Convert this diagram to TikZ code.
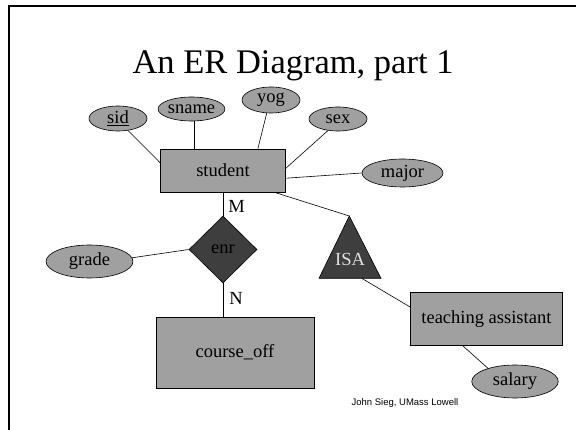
\documentclass[tikz,border=0pt]{standalone}
\usepackage{fontspec}
\setmainfont{Liberation Serif}
\newfontfamily\footfont{Liberation Sans}
\usetikzlibrary{shapes.geometric,calc}
\definecolor{shapefill}{RGB}{160,160,160}
\definecolor{darkfill}{RGB}{62,62,62}
\definecolor{isatext}{RGB}{225,225,225}
\tikzset{
  attr/.style={ellipse,draw=black,fill=shapefill,inner sep=0pt,line width=0.6pt,font=\fontsize{18.5}{20}\selectfont},
  entity/.style={rectangle,draw=black,fill=shapefill,inner sep=0pt,line width=0.6pt,font=\fontsize{18.5}{20}\selectfont},
  rel/.style={diamond,draw=black,fill=darkfill,inner sep=0pt,line width=0.6pt,font=\fontsize{18.5}{20}\selectfont},
  conn/.style={draw=black,line width=0.6pt},
  card/.style={inner sep=0pt,font=\fontsize{18.5}{20}\selectfont},
}
\begin{document}
\begin{tikzpicture}[x=1pt,y=-1pt]
\useasboundingbox (0,0) rectangle (576,430);
\clip (0,0) rectangle (576,430);
\fill[white] (0,0) rectangle (576,430);
% frame
\draw[line width=2pt] (9,6) rectangle (600,460);
% title
\node[anchor=base,inner sep=0pt,font=\fontsize{34.5}{38}\selectfont] (title) at (293,74) {An ER Diagram, part 1};
% entities
\node[entity,minimum width=125pt,minimum height=43pt] (student) at (223,170.5) {student};
\node[entity,minimum width=158pt,minimum height=71pt] (course) at (235,352.5) {course\_off};
\node[entity,minimum width=152.5pt,minimum height=52.5pt] (ta) at (486.4,319) {teaching assistant};
% attributes
\node[attr,minimum width=58pt,minimum height=25pt] (sid) at (118,118.5) {\underline{sid}};
\node[attr,minimum width=63pt,minimum height=24pt] (sname) at (191.5,109) {sname};
\node[attr,minimum width=58pt,minimum height=26pt] (yog) at (271,100) {yog};
\node[attr,minimum width=58pt,minimum height=24pt] (sex) at (338,119) {sex};
\node[attr,minimum width=81pt,minimum height=28pt] (major) at (402.5,173) {major};
\node[attr,minimum width=87pt,minimum height=33pt] (grade) at (89.5,261.5) {grade};
\node[attr,minimum width=86.5pt,minimum height=33pt] (salary) at (515,381.5) {salary};
% relationship
\node[rel,minimum width=68pt,minimum height=67pt,aspect=1] (enr) at (223,249.5) {enr};
% ISA triangle
\coordinate (isaT) at (349.3,216);
\coordinate (isaL) at (319,278.3);
\coordinate (isaR) at (381,278.3);
\coordinate (isaB) at (361.7,278.3);
\filldraw[fill=darkfill,draw=black,line width=0.6pt] (isaT) -- (isaL) -- (isaR) -- cycle;
\node[inner sep=0pt,text=isatext,font=\fontsize{18.5}{20}\selectfont,anchor=base] (isa) at (350,265.5) {ISA};
% cardinalities
\node[card] (m) at (236.5,206) {M};
\node[card] (n) at (236,298.5) {N};
% connectors
\draw[conn] (sid.-50) -- (student.173);
\draw[conn] (sname.-78) -- (sname.-78 |- student.north);
\draw[conn] (yog.-108) -- (student.32.5);
\draw[conn] (sex.-131) -- (student.2);
\draw[conn] (student.-7) -- (major.west);
\draw[conn] (student.south) -- (enr.north);
\draw[conn] (grade.5) -- (enr.west);
\draw[conn] (enr.south) -- (enr.south |- course.north);
\draw[conn] (student.-23.4) -- (isaT);
\draw[conn] (isaB) -- (ta.171.4);
\draw[conn] (ta.-132.9) -- (salary.154.5);
% footer
\node[inner sep=0pt,font=\footfont\fontsize{9.5}{11}\selectfont] (foot) at (405,403.5) {John Sieg, UMass Lowell};
\end{tikzpicture}
\end{document}
